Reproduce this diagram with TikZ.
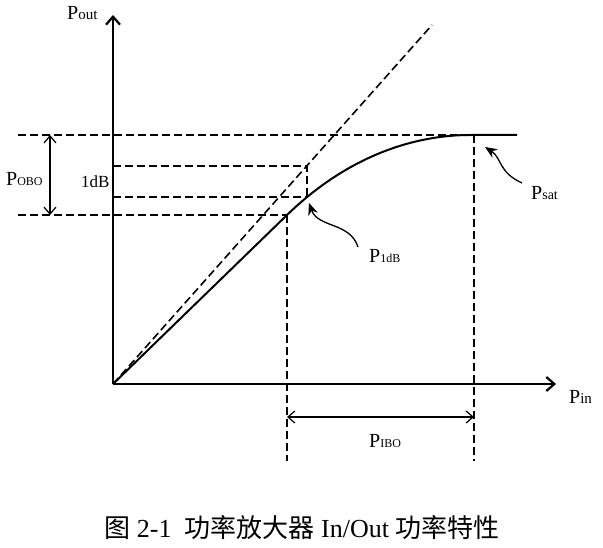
\documentclass[tikz,border=0pt]{standalone}
\usepackage{fontspec}
\setmainfont{Liberation Serif}
\newfontfamily\cjk{Noto Sans CJK SC}
\usetikzlibrary{arrows.meta}
\newcommand\Plab[2][13]{{\fontsize{20}{20}\selectfont P}{\fontsize{#1}{#1}\selectfont #2}}
\tikzset{
  axisln/.style={line width=2.2pt,-{Straight Barb[length=8pt,width=14pt]}},
  curveln/.style={line width=2pt},
  dashln/.style={line width=1.6pt,dash pattern=on 8pt off 4pt},
  dimln/.style={line width=1.2pt,{Straight Barb[length=7pt,width=12pt]}-{Straight Barb[length=7pt,width=12pt]}},
  curvyarrow/.style={line width=1.3pt,-{Stealth[length=12pt,width=10pt]}},
  lbl/.style={inner sep=0pt,anchor=base west}
}
\begin{document}
\begin{tikzpicture}[x=1pt,y=-1pt]
\useasboundingbox (0,0) rectangle (603,548);
% key points
\coordinate (O) at (113,384);
\coordinate (ytop) at (113,15);
\coordinate (xend) at (556,384);
\coordinate (diagend) at (432,25);
\coordinate (A) at (287,215);
\coordinate (S) at (470,135);
\coordinate (Send) at (517,135);
\coordinate (B) at (307,197);
\coordinate (C) at (307,166);
\coordinate (OBOt) at (18,135);
\coordinate (OBOb) at (18,215);
\coordinate (sat) at (474,135);
\coordinate (d1a) at (113,166);
\coordinate (d1b) at (113,197);
\coordinate (Abot) at (287,461);
\coordinate (satbot) at (474,461);
\coordinate (obo1) at (50,135);
\coordinate (obo2) at (50,215);
\coordinate (ibo1) at (287,417);
\coordinate (ibo2) at (474,417);
\coordinate (psattail) at (522,183);
\coordinate (psattip) at (485,147);
\coordinate (p1tail) at (358,247);
\coordinate (p1tip) at (309,203);
% dashed guides
\draw[dashln] (O) -- (diagend);
\draw[dashln] (OBOt) -- (sat);
\draw[dashln] (OBOb) -- (A);
\draw[dashln] (d1a) -- (C) -- (B);
\draw[dashln] (d1b) -- (B);
\draw[dashln] (A) -- (Abot);
\draw[dashln] (sat) -- (satbot);
% axes
\draw[axisln] (O) -- (ytop);
\draw[axisln] (O) -- (xend);
% characteristic curve
\draw[curveln] (O) -- (A) .. controls (352,152) and (420,135) .. (S) -- (Send);
% dimension arrows
\draw[dimln] (obo1) -- (obo2);
\draw[dimln] (ibo1) -- (ibo2);
% pointer arrows
\draw[curvyarrow] (psattail) .. controls (498,172) and (502,158) .. (psattip);
\draw[curvyarrow] (p1tail) .. controls (350,222) and (318,228) .. (p1tip);
% labels
\node[lbl] (Lpout) at (67,20) {\Plab[15]{out}};
\node[lbl] (Lpin) at (569,403) {\Plab[15]{in}};
\node[lbl] (Lpobo) at (6,186) {\Plab[12]{OBO}};
\node[lbl] (L1db) at (81,188) {\fontsize{17}{17}\selectfont 1dB};
\node[lbl] (Lp1db) at (369,263) {\Plab[12]{1dB}};
\node[lbl] (Lpsat) at (531,200) {\Plab[14]{sat}};
\node[lbl] (Lpibo) at (369,447) {\Plab[12]{IBO}};
\node[inner sep=0pt,anchor=base] (cap) at (302,537) {\fontsize{26}{26}\selectfont{\cjk 图} 2-1\ \ {\cjk 功率放大器} In/Out {\cjk 功率特性}};
\end{tikzpicture}
\end{document}
